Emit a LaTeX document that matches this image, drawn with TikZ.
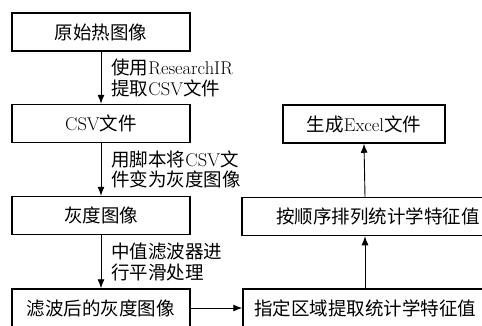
\documentclass[tikz,border=0pt]{standalone}
\usepackage{fontspec}
\newfontfamily\cjk{Noto Sans CJK SC}
\usetikzlibrary{arrows.meta}
\newcommand{\latw}[1]{{\rmfamily\fontsize{18.5}{20}\selectfont #1}}
\tikzset{
  box/.style={draw, line width=1.5pt, inner sep=0pt, minimum height=38pt},
  flow/.style={draw, line width=0.9pt, -{Latex[length=9pt,width=7pt]}},
  lbl/.style={inner sep=0pt, align=left, right=10pt},
}
\begin{document}
\begin{tikzpicture}[x=1pt, y=-1pt, font=\cjk\fontsize{18.5}{20.5}\selectfont]
\useasboundingbox (0,0) rectangle (482,325);
\clip (0,0) rectangle (482,325);
\node[box, minimum width=178pt] (b1) at (101,32) {原始热图像};
\node[box, minimum width=178pt] (b2) at (101,123.5) {\latw{CSV}文件};
\node[box, minimum width=178pt] (b3) at (101,215.5) {灰度图像};
\node[box, minimum width=178pt] (b4) at (101,308) {滤波后的灰度图像};
\node[box, minimum width=244pt] (b5) at (365,308) {指定区域提取统计学特征值};
\node[box, minimum width=272pt] (b6) at (378,216.5) {按顺序排列统计学特征值};
\node[box, minimum width=162pt] (b7) at (364,124) {生成\latw{Excel}文件};
\draw[flow] (b1.south) -- (b2.north) node[lbl, midway] {使用\latw{ResearchIR}\\提取\latw{CSV}文件};
\draw[flow] (b2.south) -- (b3.north) node[lbl, midway] {用脚本将\latw{CSV}文\\件变为灰度图像};
\draw[flow] (b3.south) -- (b4.north) node[lbl, midway] {中值滤波器进\\行平滑处理};
\draw[flow] (b4.east) -- (b5.west);
\draw[flow] (b5.north) -- (b5.north |- b6.south);
\draw[flow] (b5.north |- b6.north) -- (b7.south);
\end{tikzpicture}
\end{document}
